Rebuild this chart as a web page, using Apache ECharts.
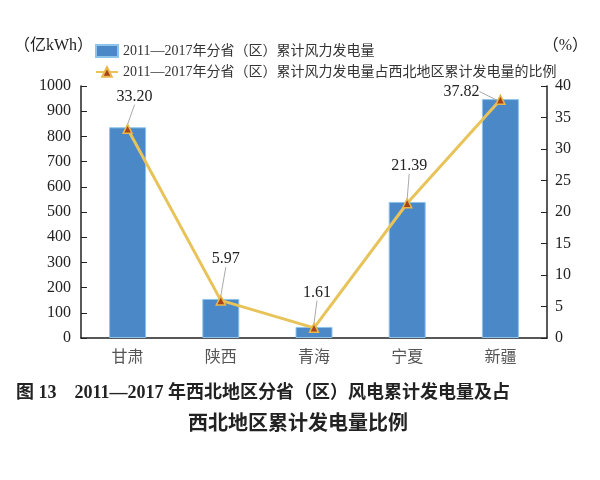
<!DOCTYPE html>
<html>
<head>
<meta charset="utf-8">
<script src="https://cdn.jsdelivr.net/npm/echarts@6/dist/echarts.min.js"></script>
<style>
  html, body { margin: 0; padding: 0; background: #fff; }
  #main { width: 600px; height: 480px; }
</style>
</head>
<body>
<div id="main"></div>
<script>
var provinces = ['甘肃', '陕西', '青海', '宁夏', '新疆'];
var windPower = [836, 155, 44, 540, 948];          // 亿kWh
var shareOfNW = [33.20, 5.97, 1.61, 21.39, 37.82]; // %
var leftTicks = [0, 100, 200, 300, 400, 500, 600, 700, 800, 900, 1000];
var rightTicks = [0, 5, 10, 15, 20, 25, 30, 35, 40];

var barName = '2011—2017年分省（区）累计风力发电量';
var lineName = '2011—2017年分省（区）累计风力发电量占西北地区累计发电量的比例';

// how far each percentage callout sits from its point
var labelShift = [[7, -17], [5, -26], [3, -20], [2, -22], [-39, 7]];

var serif = "'Liberation Serif', 'Noto Sans CJK SC', serif";

var chart = echarts.init(document.getElementById('main'));

chart.setOption({
  backgroundColor: '#fff',
  animation: false,
  legend: {
    orient: 'vertical',
    left: 90,
    top: 39,
    itemGap: 7,
    itemWidth: 22,
    itemHeight: 12,
    textStyle: { fontFamily: serif, fontSize: 14, color: '#333' },
    data: [
      { name: barName, icon: 'rect' },
      { name: lineName }
    ]
  },
  grid: { left: 81, right: 53, top: 86, bottom: 142 },
  xAxis: {
    type: 'category',
    data: provinces,
    axisLine: { lineStyle: { color: '#222', width: 1.5 } },
    axisTick: { show: false },
    axisLabel: { fontFamily: serif, fontSize: 16, color: '#555', margin: 12 }
  },
  yAxis: [
    {
      type: 'value',
      min: leftTicks[0],
      max: leftTicks[leftTicks.length - 1],
      interval: 100,
      splitLine: { show: false },
      axisLine: { show: true, lineStyle: { color: '#222', width: 1.5 } },
      axisTick: { show: true, inside: true, length: 6, lineStyle: { color: '#222' } },
      axisLabel: {
        fontFamily: serif, fontSize: 16, color: '#222', margin: 10,
        formatter: function (v) { return String(v); }
      }
    },
    {
      type: 'value',
      min: rightTicks[0],
      max: rightTicks[rightTicks.length - 1],
      interval: 5,
      splitLine: { show: false },
      axisLine: { show: true, lineStyle: { color: '#222', width: 1.5 } },
      axisTick: { show: true, inside: true, length: 6, lineStyle: { color: '#222' } },
      axisLabel: { fontFamily: serif, fontSize: 16, color: '#222', margin: 8 }
    }
  ],
  series: [
    {
      name: barName,
      type: 'bar',
      data: windPower,
      barWidth: 37,
      itemStyle: { color: '#4a88c7', borderColor: '#8ec3ea', borderWidth: 1 }
    },
    {
      name: lineName,
      type: 'line',
      yAxisIndex: 1,
      data: shareOfNW,
      symbol: 'triangle',
      symbolSize: 9,
      itemStyle: { color: '#a8431c', borderColor: '#e8b84a', borderWidth: 1.5 },
      lineStyle: { color: '#e8c35a', width: 3 },
      label: {
        show: true,
        position: 'top',
        distance: 2,
        formatter: function (p) { return p.value.toFixed(2); },
        fontFamily: serif,
        fontSize: 16,
        color: '#222'
      },
      labelLine: { show: true, lineStyle: { color: '#aaa', width: 1 } },
      labelLayout: function (params) {
        var s = labelShift[params.dataIndex];
        return { dx: s[0], dy: s[1] };
      },
      z: 3
    }
  ],
  graphic: [
    {
      type: 'text', left: 14, top: 38,
      style: { text: '（亿kWh）', font: '16px ' + serif, fill: '#222' }
    },
    {
      type: 'text', right: 12, top: 38,
      style: { text: '（%）', font: '16px ' + serif, fill: '#222' }
    },
    {
      type: 'text', left: 16, top: 384,
      style: {
        text: '图 13　2011—2017 年西北地区分省（区）风电累计发电量及占',
        font: 'bold 18px ' + serif, fill: '#222'
      }
    },
    {
      type: 'text', left: 188, top: 415,
      style: {
        text: '西北地区累计发电量比例',
        font: 'bold 20px ' + serif, fill: '#222'
      }
    }
  ]
});
</script>
</body>
</html>
